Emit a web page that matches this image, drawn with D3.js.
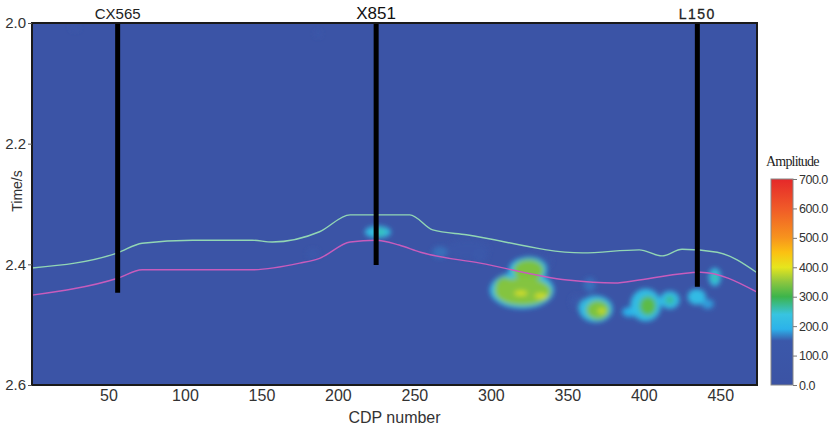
<!DOCTYPE html>
<html>
<meta charset="utf-8">
<style>
  body { margin: 0; background: #fff; }
  text { font-family: "Liberation Sans", Arial, sans-serif; fill: #333; }
</style>
<body>
<div id="chart"></div>
<script src="https://d3js.org/d3.v7.min.js"></script>
<script>

// wells
var wellNames = ["CX565", "X851", "L150"];
var wellCdp = [56, 225, 435];
var wellEnd = [2.447, 2.401, 2.437];

// horizons (cdp, time)
var greenCdp = [0, 56, 72, 105, 144, 157, 188, 208, 247, 262, 284, 360, 397, 412, 425, 448, 474];
var greenT = [2.406, 2.381, 2.365, 2.360, 2.360, 2.363, 2.346, 2.318, 2.318, 2.343, 2.351, 2.381, 2.376, 2.386, 2.375, 2.380, 2.414];
var pinkCdp = [0, 56, 72, 144, 175, 188, 208, 225, 240, 254, 293, 350, 381, 397, 437, 474];
var pinkT = [2.451, 2.423, 2.409, 2.409, 2.398, 2.390, 2.363, 2.360, 2.368, 2.380, 2.398, 2.426, 2.431, 2.426, 2.413, 2.446];

// amplitude anomalies: centre cdp, centre time, half width (cdp), half height (s), amplitude
var anomCdp = [28, 187, 183.7, 266.7, 292.8, 364.7, 226.1, 227.5,
               320.3, 324.2, 320.9, 324.6, 309, 319.6, 332.7,
               368.6, 369.9, 372.5, 390.8, 401.3, 402.6, 417, 417,
               434.6, 441.8, 446.4, 446.4, 356, 285, 330];
var anomT = [2.008, 2.018, 2.383, 2.380, 2.385, 2.434, 2.3464, 2.3464,
             2.4426, 2.4094, 2.4452, 2.410, 2.440, 2.4478, 2.4525,
             2.474, 2.4757, 2.4774, 2.479, 2.4674, 2.469, 2.459, 2.459,
             2.454, 2.4658, 2.421, 2.421, 2.462, 2.375, 2.395];
var anomW = [3, 2, 4, 5, 5, 4, 8.5, 4,
             21, 12.5, 18.5, 10, 6.5, 4.2, 4.2,
             11, 7.5, 2.6, 5, 10, 5.5, 6.5, 3,
             6, 4, 4, 2, 4, 14, 10];
var anomH = [0.005, 0.005, 0.008, 0.010, 0.012, 0.012, 0.010, 0.0066,
             0.031, 0.021, 0.023, 0.018, 0.019, 0.004, 0.004,
             0.022, 0.016, 0.0045, 0.008, 0.027, 0.016, 0.015, 0.007,
             0.013, 0.008, 0.015, 0.008, 0.012, 0.015, 0.012];
var anomAmp = [130, 150, 150, 160, 150, 160, 220, 255,
               218, 218, 345, 340, 340, 392, 392,
               218, 340, 385, 190, 218, 320, 215, 270,
               215, 180, 225, 260, 150, 120, 125];

// colour bar
var ampStops = [0, 150, 190, 240, 300, 350, 400, 450, 500, 600, 700];
var ampColors = ["#3b53a4", "#3b58aa", "#2cb2ea", "#38c4e0", "#3cb44b", "#8cc63f", "#e6e51e", "#fbc112", "#f7941d", "#f05a28", "#e5282a"];
var ampTicks = [0, 100, 200, 300, 400, 500, 600, 700];

var xTicks = [50, 100, 150, 200, 250, 300, 350, 400, 450];
var yTicks = [2.0, 2.2, 2.4, 2.6];

var W = 838, H = 430;
var margin = {top: 23, right: 81, bottom: 45, left: 32};
var width = W - margin.left - margin.right,
    height = H - margin.top - margin.bottom;

var svg = d3.select("#chart").append("svg")
    .attr("width", W).attr("height", H);

var x = d3.scaleLinear().domain([0, 474]).range([0, width]);
var y = d3.scaleLinear().domain([2.0, 2.6]).range([0, height]);
var color = d3.scaleLinear().domain(ampStops).range(ampColors);

var defs = svg.append("defs");
defs.append("clipPath").attr("id", "clip")
  .append("rect").attr("width", width).attr("height", height);
defs.append("filter").attr("id", "blur")
    .attr("x", "-50%").attr("y", "-50%").attr("width", "200%").attr("height", "200%")
  .append("feGaussianBlur").attr("stdDeviation", 2.6);

var g = svg.append("g")
    .attr("transform", "translate(" + margin.left + "," + margin.top + ")");

var plot = g.append("g").attr("clip-path", "url(#clip)");

plot.append("rect")
    .attr("width", width).attr("height", height)
    .attr("fill", color(40));

// anomalies, low amplitude first
var idx = d3.range(anomCdp.length).sort(function(a, b) { return anomAmp[a] - anomAmp[b]; });
plot.append("g").attr("filter", "url(#blur)")
  .selectAll("ellipse")
  .data(idx)
  .enter().append("ellipse")
    .attr("cx", function(i) { return x(anomCdp[i]); })
    .attr("cy", function(i) { return y(anomT[i]); })
    .attr("rx", function(i) { return x(anomW[i]) - x(0); })
    .attr("ry", function(i) { return y(2.0 + anomH[i]) - y(2.0); })
    .attr("fill", function(i) { return color(anomAmp[i]); });

// horizons
var line = d3.line()
    .x(function(d) { return x(d[0]); })
    .y(function(d) { return y(d[1]); })
    .curve(d3.curveMonotoneX);

plot.append("path")
    .datum(d3.zip(greenCdp, greenT))
    .attr("d", line)
    .attr("fill", "none")
    .attr("stroke", "#92d6b4")
    .attr("stroke-width", 1.4);

plot.append("path")
    .datum(d3.zip(pinkCdp, pinkT))
    .attr("d", line)
    .attr("fill", "none")
    .attr("stroke", "#c85cbc")
    .attr("stroke-width", 1.4);

// wells
g.selectAll(".well")
  .data(wellNames)
  .enter().append("line")
    .attr("class", "well")
    .attr("x1", function(d, i) { return x(wellCdp[i]); })
    .attr("x2", function(d, i) { return x(wellCdp[i]); })
    .attr("y1", 0)
    .attr("y2", function(d, i) { return y(wellEnd[i]); })
    .attr("stroke", "#000")
    .attr("stroke-width", 5);

var labelSize = [15, 17, 14];
g.selectAll(".wellname")
  .data(wellNames)
  .enter().append("text")
    .attr("class", "wellname")
    .attr("x", function(d, i) { return x(wellCdp[i]); })
    .attr("y", -4)
    .attr("text-anchor", "middle")
    .style("font-size", function(d, i) { return labelSize[i] + "px"; })
    .style("letter-spacing", function(d, i) { return i == 2 ? "1.5px" : "0px"; })
    .style("stroke", function(d, i) { return i == 2 ? "#222" : "none"; })
    .style("stroke-width", 0.3)
    .style("fill", function(d, i) { return i == 1 ? "#111" : "#222"; })
    .text(function(d) { return d; });

// frame
g.append("rect")
    .attr("width", width).attr("height", height)
    .attr("fill", "none")
    .attr("stroke", "#1a1a1a")
    .attr("stroke-width", 2);

// axes
var xAxis = g.append("g")
    .attr("transform", "translate(0," + height + ")")
    .call(d3.axisBottom(x).tickValues(xTicks).tickSize(0).tickPadding(5));
xAxis.select(".domain").remove();
xAxis.selectAll("text").style("font-size", "16px").style("fill", "#333");

var yAxis = g.append("g")
    .call(d3.axisLeft(y).tickValues(yTicks).tickFormat(d3.format(".1f")).tickSize(4).tickPadding(2));
yAxis.select(".domain").remove();
yAxis.selectAll("line").attr("stroke", "#555");
yAxis.selectAll("text").style("font-size", "15px").style("fill", "#333");

g.append("text")
    .attr("x", width / 2)
    .attr("y", height + 38)
    .attr("text-anchor", "middle")
    .style("font-size", "16px")
    .text("CDP number");

g.append("text")
    .attr("transform", "rotate(-90)")
    .attr("x", -168)
    .attr("y", -10)
    .attr("text-anchor", "middle")
    .style("font-size", "14px")
    .text("Time/s");

// colour bar
var cb = svg.append("g").attr("transform", "translate(771,179)");
var cbH = 206, cbW = 22;
var cy = d3.scaleLinear().domain([0, 700]).range([cbH, 0]);

var grad = defs.append("linearGradient").attr("id", "ampgrad")
    .attr("x1", 0).attr("y1", 1).attr("x2", 0).attr("y2", 0);
grad.selectAll("stop")
  .data(ampStops)
  .enter().append("stop")
    .attr("offset", function(d) { return d / 700; })
    .attr("stop-color", function(d, i) { return ampColors[i]; });

cb.append("rect")
    .attr("width", cbW).attr("height", cbH)
    .attr("fill", "url(#ampgrad)")
    .attr("stroke", "#888")
    .attr("stroke-width", 1);

var cAxis = cb.append("g")
    .attr("transform", "translate(" + cbW + ",0)")
    .call(d3.axisRight(cy).tickValues(ampTicks).tickFormat(d3.format(".1f")).tickSize(4).tickPadding(2));
cAxis.select(".domain").remove();
cAxis.selectAll("line").attr("stroke", "#777");
cAxis.selectAll("text")
    .style("font-size", "12.5px")
    .style("letter-spacing", "-0.5px")
    .style("fill", "#333");

cb.append("text")
    .attr("x", -5)
    .attr("y", -13)
    .style("font-family", "'Liberation Serif', 'Times New Roman', serif")
    .style("font-size", "14px")
    .style("letter-spacing", "-0.8px")
    .style("fill", "#222")
    .text("Amplitude");

</script>
</body>
</html>
